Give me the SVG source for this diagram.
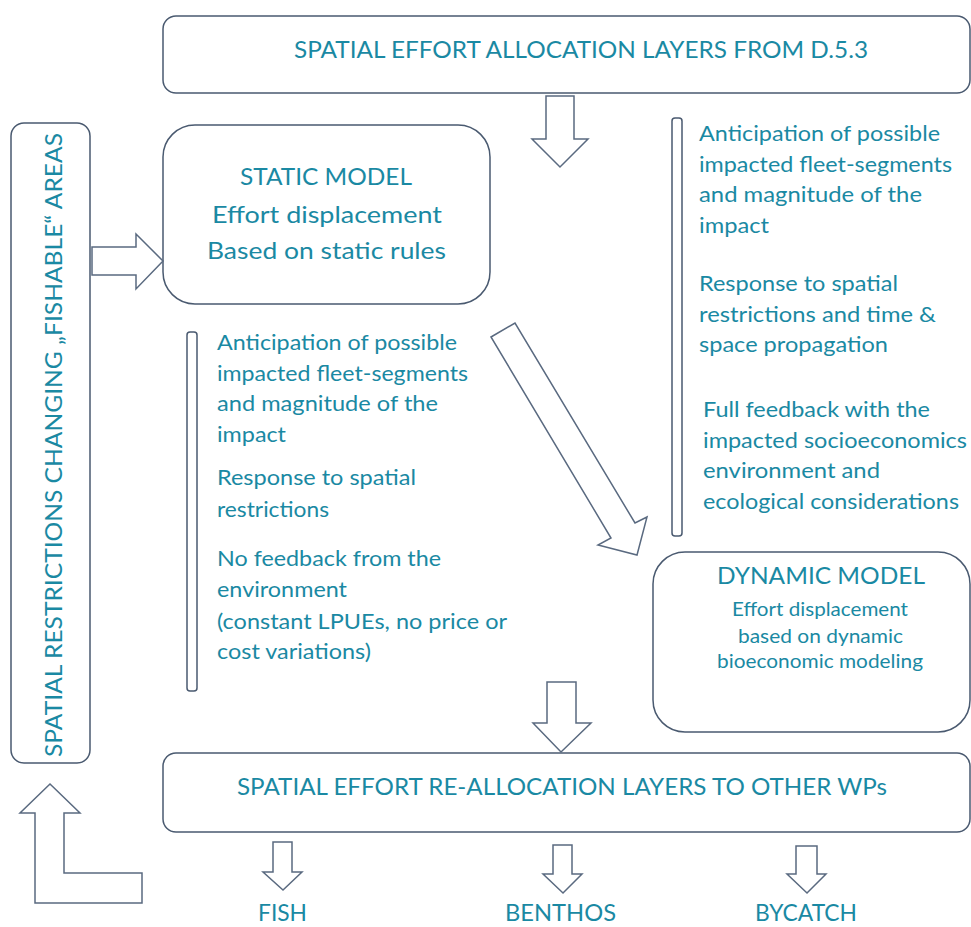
<svg xmlns="http://www.w3.org/2000/svg" width="971" height="927" viewBox="0 0 971 927">
<style>
.box{fill:#ffffff;stroke:#4a5a70;stroke-width:1.5}
.bar{fill:#ffffff;stroke:#4a5a70;stroke-width:1.5}
.arr{fill:#ffffff;stroke:#5a6a80;stroke-width:1.5;stroke-linejoin:miter}
text{font-family:Lato,"Open Sans","Liberation Sans",sans-serif;fill:#1a89a3}
.t24{font-size:24px}
.t23{font-size:23px}
.t22{font-size:22px}
.t19{font-size:19px}
</style>
<rect width="971" height="927" fill="#ffffff"/>
<g id="top-box">
<rect class="box" x="163" y="16" width="807" height="77" rx="13"/>
<text class="t24" x="294" y="58" textLength="574" lengthAdjust="spacingAndGlyphs">SPATIAL EFFORT ALLOCATION LAYERS FROM D.5.3</text>
</g>
<g id="restrictions-box">
<rect class="box" x="11" y="123" width="79" height="640" rx="13"/>
<text class="t24" transform="translate(62,757) rotate(-90)" x="0" y="0" textLength="624" lengthAdjust="spacingAndGlyphs">SPATIAL RESTRICTIONS CHANGING „FISHABLE“ AREAS</text>
</g>
<g id="static-model">
<rect class="box" x="163" y="125" width="327" height="179" rx="32"/>
<text class="t24" x="240" y="185" textLength="172" lengthAdjust="spacingAndGlyphs">STATIC MODEL</text>
<text class="t24" x="212" y="223" textLength="230" lengthAdjust="spacingAndGlyphs">Effort displacement</text>
<text class="t24" x="207" y="259" textLength="239" lengthAdjust="spacingAndGlyphs">Based on static rules</text>
</g>
<g id="static-notes">
<rect class="bar" x="187" y="332" width="10" height="359" rx="3"/>
<text class="t22" x="217" y="350" textLength="240" lengthAdjust="spacingAndGlyphs">Anticipation of possible</text>
<text class="t22" x="217" y="381" textLength="251" lengthAdjust="spacingAndGlyphs">impacted fleet-segments</text>
<text class="t22" x="217" y="411" textLength="221" lengthAdjust="spacingAndGlyphs">and magnitude of the</text>
<text class="t22" x="217" y="442" textLength="69" lengthAdjust="spacingAndGlyphs">impact</text>
<text class="t22" x="217" y="485" textLength="199" lengthAdjust="spacingAndGlyphs">Response to spatial</text>
<text class="t22" x="217" y="517" textLength="112" lengthAdjust="spacingAndGlyphs">restrictions</text>
<text class="t22" x="217" y="566" textLength="224" lengthAdjust="spacingAndGlyphs">No feedback from the</text>
<text class="t22" x="217" y="597" textLength="130" lengthAdjust="spacingAndGlyphs">environment</text>
<text class="t22" x="217" y="629" textLength="290" lengthAdjust="spacingAndGlyphs">(constant LPUEs, no price or</text>
<text class="t22" x="217" y="659" textLength="154" lengthAdjust="spacingAndGlyphs">cost variations)</text>
</g>
<g id="dynamic-notes">
<rect class="bar" x="672" y="118" width="10" height="418" rx="3"/>
<text class="t22" x="699" y="141" textLength="241" lengthAdjust="spacingAndGlyphs">Anticipation of possible</text>
<text class="t22" x="699" y="172" textLength="253" lengthAdjust="spacingAndGlyphs">impacted fleet-segments</text>
<text class="t22" x="699" y="202" textLength="223" lengthAdjust="spacingAndGlyphs">and magnitude of the</text>
<text class="t22" x="699" y="233" textLength="70" lengthAdjust="spacingAndGlyphs">impact</text>
<text class="t22" x="699" y="291" textLength="199" lengthAdjust="spacingAndGlyphs">Response to spatial</text>
<text class="t22" x="699" y="322" textLength="237" lengthAdjust="spacingAndGlyphs">restrictions and time &amp;</text>
<text class="t22" x="699" y="352" textLength="189" lengthAdjust="spacingAndGlyphs">space propagation</text>
<text class="t22" x="703" y="417" textLength="227" lengthAdjust="spacingAndGlyphs">Full feedback with the</text>
<text class="t22" x="703" y="448" textLength="264" lengthAdjust="spacingAndGlyphs">impacted socioeconomics</text>
<text class="t22" x="703" y="478" textLength="177" lengthAdjust="spacingAndGlyphs">environment and</text>
<text class="t22" x="703" y="509" textLength="256" lengthAdjust="spacingAndGlyphs">ecological considerations</text>
</g>
<g id="dynamic-model">
<rect class="box" x="653" y="552" width="317" height="180" rx="32"/>
<text class="t24" x="717" y="584" textLength="208" lengthAdjust="spacingAndGlyphs">DYNAMIC MODEL</text>
<text class="t19" x="732" y="616" textLength="176" lengthAdjust="spacingAndGlyphs">Effort displacement</text>
<text class="t19" x="738" y="643" textLength="165" lengthAdjust="spacingAndGlyphs">based on dynamic</text>
<text class="t19" x="717" y="668" textLength="206" lengthAdjust="spacingAndGlyphs">bioeconomic modeling</text>
</g>
<g id="bottom-box">
<rect class="box" x="163" y="753" width="807" height="79" rx="13"/>
<text class="t24" x="237" y="795" textLength="650" lengthAdjust="spacingAndGlyphs">SPATIAL EFFORT RE-ALLOCATION LAYERS TO OTHER WPs</text>
</g>
<g id="fish"><text class="t23" x="258" y="921" textLength="49" lengthAdjust="spacingAndGlyphs">FISH</text></g>
<g id="benthos"><text class="t23" x="505" y="921" textLength="111" lengthAdjust="spacingAndGlyphs">BENTHOS</text></g>
<g id="bycatch"><text class="t23" x="755" y="921" textLength="102" lengthAdjust="spacingAndGlyphs">BYCATCH</text></g>
<g id="connectors">
<polygon class="arr" points="546,96 574,96 574,139 588,139 560,167 532,139 546,139"/>
<polygon class="arr" points="92,247 136,247 136,234 163,261 136,289 136,275 92,275"/>
<polygon class="arr" points="491,337 515,323 635,523 647,517 637,555 598,545 611,538"/>
<polygon class="arr" points="547,682 576,682 576,723 591,723 561,752 533,723 547,723"/>
<polygon class="arr" points="273,842 292,842 292,872 302,872 283,890 263,872 273,872"/>
<polygon class="arr" points="553,845 572,845 572,874 582,874 563,893 543,874 553,874"/>
<polygon class="arr" points="796,846 817,846 817,874 826,874 807,893 787,874 796,874"/>
<polygon class="arr" points="50,784 80,813 64,813 64,873 142,873 142,903 35,903 35,813 20,813"/>
</g>
</svg>
